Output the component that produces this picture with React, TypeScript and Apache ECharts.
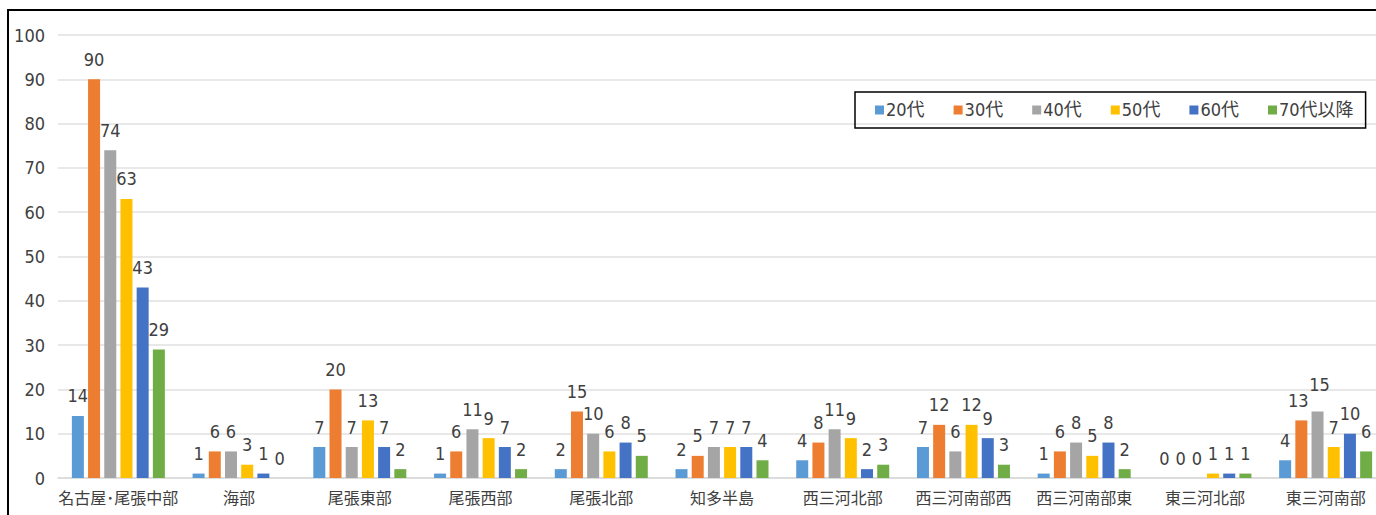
import React, { useEffect, useRef } from "react";
import * as echarts from "echarts";

const regions = [
  "名古屋･尾張中部",
  "海部",
  "尾張東部",
  "尾張西部",
  "尾張北部",
  "知多半島",
  "西三河北部",
  "西三河南部西",
  "西三河南部東",
  "東三河北部",
  "東三河南部",
];

const ageGroups = ["20代", "30代", "40代", "50代", "60代", "70代以降"];

const age20 = [14, 1, 7, 1, 2, 2, 4, 7, 1, 0, 4];
const age30 = [90, 6, 20, 6, 15, 5, 8, 12, 6, 0, 13];
const age40 = [74, 6, 7, 11, 10, 7, 11, 6, 8, 0, 15];
const age50 = [63, 3, 13, 9, 6, 7, 9, 12, 5, 1, 7];
const age60 = [43, 1, 7, 7, 8, 7, 2, 9, 8, 1, 10];
const age70 = [29, 0, 2, 2, 5, 4, 3, 3, 2, 1, 6];

const seriesValues = [age20, age30, age40, age50, age60, age70];
const colors = ["#5B9BD5", "#ED7D31", "#A5A5A5", "#FFC000", "#4472C4", "#70AD47"];

const yTicks = [0, 10, 20, 30, 40, 50, 60, 70, 80, 90, 100];

const NUM_FONT = "'Liberation Sans Narrow', 'DejaVu Sans Condensed', 'Noto Sans CJK JP', sans-serif";
const CJK_FONT = "'Noto Sans CJK JP', sans-serif";

// Nudges for labels that would otherwise collide: [seriesIndex, dataIndex, dx, dy]
const labelNudges: [number, number, number, number][] = [
  [1, 10, -3, 0],
  [2, 10, 2, -7],
];

export default function App() {
  const ref = useRef<HTMLDivElement>(null);

  useEffect(() => {
    if (!ref.current) return;
    const chart = echarts.init(ref.current, undefined, { renderer: "svg" });
    chart.setOption({
      animation: false,
      backgroundColor: "#ffffff",
      color: colors,
      grid: { left: 58, right: 14, top: 35, bottom: 52, containLabel: false },
      legend: {
        data: ageGroups,
        left: 855,
        top: 92,
        orient: "horizontal",
        icon: "rect",
        itemWidth: 9,
        itemHeight: 9,
        itemGap: 29,
        padding: [9, 12, 9, 20],
        borderColor: "#000000",
        borderWidth: 1.5,
        textStyle: {
          fontSize: 18,
          color: "#404040",
          fontFamily: NUM_FONT,
          padding: [0, 0, 0, -3],
        },
      },
      xAxis: {
        type: "category",
        data: regions,
        axisTick: { show: false },
        axisLine: { lineStyle: { color: "#d9d9d9", width: 1.5 } },
        axisLabel: {
          fontSize: 16,
          color: "#404040",
          fontFamily: CJK_FONT,
          margin: 11,
          interval: 0,
        },
      },
      yAxis: {
        type: "value",
        min: 0,
        max: 100,
        interval: 10,
        axisLine: { show: false },
        axisTick: { show: false },
        splitLine: { lineStyle: { color: "#e0e0e0", width: 1.5 } },
        axisLabel: {
          fontSize: 18,
          color: "#404040",
          fontFamily: NUM_FONT,
          margin: 13,
          formatter: (v: number) => (yTicks.includes(v) ? String(v) : ""),
        },
      },
      series: seriesValues.map((vals, i) => ({
        name: ageGroups[i],
        type: "bar",
        data: vals.map((v, j) => {
          const nudge = labelNudges.find((n) => n[0] === i && n[1] === j);
          return nudge ? { value: v, label: { offset: [nudge[2], nudge[3]] } } : v;
        }),
        barWidth: 12,
        barGap: "35%",
        itemStyle: { color: colors[i] },
        label: {
          show: true,
          position: "top",
          distance: 11,
          fontSize: 18,
          color: "#404040",
          fontFamily: NUM_FONT,
        },
      })),
    });
    return () => chart.dispose();
  }, []);

  return (
    <div
      style={{
        position: "fixed",
        left: 0,
        top: 0,
        width: 1376,
        height: 515,
        overflow: "hidden",
        background: "#ffffff",
      }}
    >
      <div ref={ref} style={{ position: "absolute", left: 0, top: 0, width: 1400, height: 530 }} />
      <div
        style={{
          position: "absolute",
          left: 7,
          top: 9,
          width: 1400,
          height: 540,
          border: "2px solid #000000",
          boxSizing: "border-box",
          pointerEvents: "none",
        }}
      />
    </div>
  );
}
